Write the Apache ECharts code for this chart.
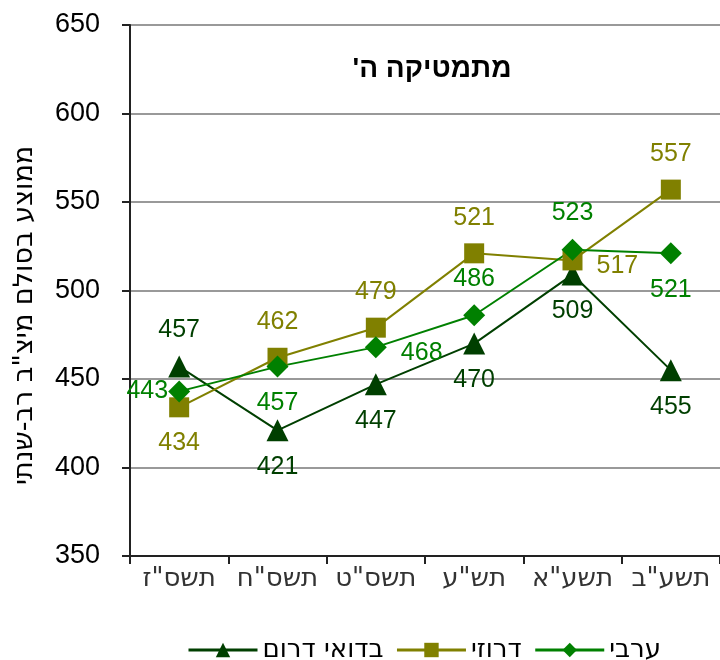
<!DOCTYPE html>
<html>
<head>
<meta charset="utf-8">
<script src="https://cdn.jsdelivr.net/npm/echarts@6/dist/echarts.min.js"></script>
<style>
  html, body { margin: 0; padding: 0; background: #fff; }
  #chart { width: 720px; height: 660px; }
</style>
</head>
<body>
<div id="chart"></div>
<script>
// School years (Hebrew calendar)
const years = ['תשס"ז', 'תשס"ח', 'תשס"ט', 'תש"ע', 'תשע"א', 'תשע"ב'];

// Mean scores on the multi-year scale, per sector
const bedouinSouth = [457, 421, 447, 470, 509, 455];
const druze = [434, 462, 479, 521, 517, 557];
const arab = [443, 457, 468, 486, 523, 521];

const seriesNames = ['בדואי דרום', 'דרוזי', 'ערבי'];
const chartTitle = 'מתמטיקה ה\'\u200F';
const yAxisTitle = 'ממוצע בסולם מיצ"ב רב-שנתי';

const FONT = '"Liberation Sans", Arial, sans-serif';
const FONT_HE = '"DejaVu Sans", sans-serif';

// per-point label placement for each line
const placeBedouin = ['top', 'bottom', 'bottom', 'bottom', 'bottom', 'bottom'];
const placeDruze = ['bottom', 'top', 'top', 'top', 'right', 'top'];
const placeArab = ['left', 'bottom', 'right', 'top', 'top', 'bottom'];

function withLabels(values, places) {
  return values.map((v, i) => {
    const p = places[i];
    const lab = { position: p, distance: 13 };
    if (p === 'right') { lab.distance = 14; lab.offset = [0, 6]; }
    if (p === 'left') { lab.distance = 0; }
    return { value: v, label: lab };
  });
}

function lineSeries(name, values, places, color, symbol, size) {
  return {
    name: name,
    type: 'line',
    data: withLabels(values, places),
    symbol: symbol,
    symbolSize: size,
    itemStyle: { color: color },
    lineStyle: { color: color, width: 2 },
    label: {
      show: true,
      color: color,
      fontFamily: FONT,
      fontSize: 25
    },
    emphasis: { disabled: true },
    animation: false
  };
}

const chart = echarts.init(document.getElementById('chart'));
chart.setOption({
  backgroundColor: '#fff',
  animation: false,
  title: {
    text: chartTitle,
    left: 427,
    top: 50,
    textAlign: 'center',
    textStyle: { fontFamily: FONT, fontSize: 28, fontWeight: 'bold', color: '#000' }
  },
  grid: { left: 130, right: -7, top: 25, bottom: 104 },
  legend: {
    top: 632,
    left: 182,
    itemWidth: 69,
    itemHeight: 18,
    itemGap: 12,
    lineStyle: { width: 3 },
    textStyle: { fontFamily: FONT_HE, fontSize: 26, color: '#000' },
    data: seriesNames
  },
  xAxis: {
    type: 'category',
    data: years,
    boundaryGap: true,
    axisLine: { lineStyle: { color: '#222', width: 2 } },
    axisTick: { show: true, interval: 0, length: 8, inside: false, lineStyle: { color: '#222', width: 2 } },
    axisLabel: { interval: 0, fontFamily: FONT_HE, fontSize: 26, color: '#333', margin: 10 },
    splitLine: { show: false }
  },
  yAxis: {
    type: 'value',
    min: 350,
    max: 650,
    interval: 50,
    name: yAxisTitle,
    nameLocation: 'middle',
    nameGap: 92,
    nameTextStyle: { fontFamily: FONT_HE, fontSize: 27, color: '#000', padding: [0, 50, 0, 0] },
    axisLine: { show: true, lineStyle: { color: '#222', width: 2 } },
    axisTick: { show: true, length: 8, inside: false, lineStyle: { color: '#222', width: 2 } },
    axisLabel: { fontFamily: FONT, fontSize: 27, color: '#000', margin: 30 },
    splitLine: { show: true, lineStyle: { color: '#999', width: 2 } }
  },
  series: [
    lineSeries(seriesNames[0], bedouinSouth, placeBedouin, '#003f00', 'triangle', 22),
    lineSeries(seriesNames[1], druze, placeDruze, '#808000', 'rect', 20),
    lineSeries(seriesNames[2], arab, placeArab, '#008000', 'diamond', 22)
  ]
});
</script>
</body>
</html>
